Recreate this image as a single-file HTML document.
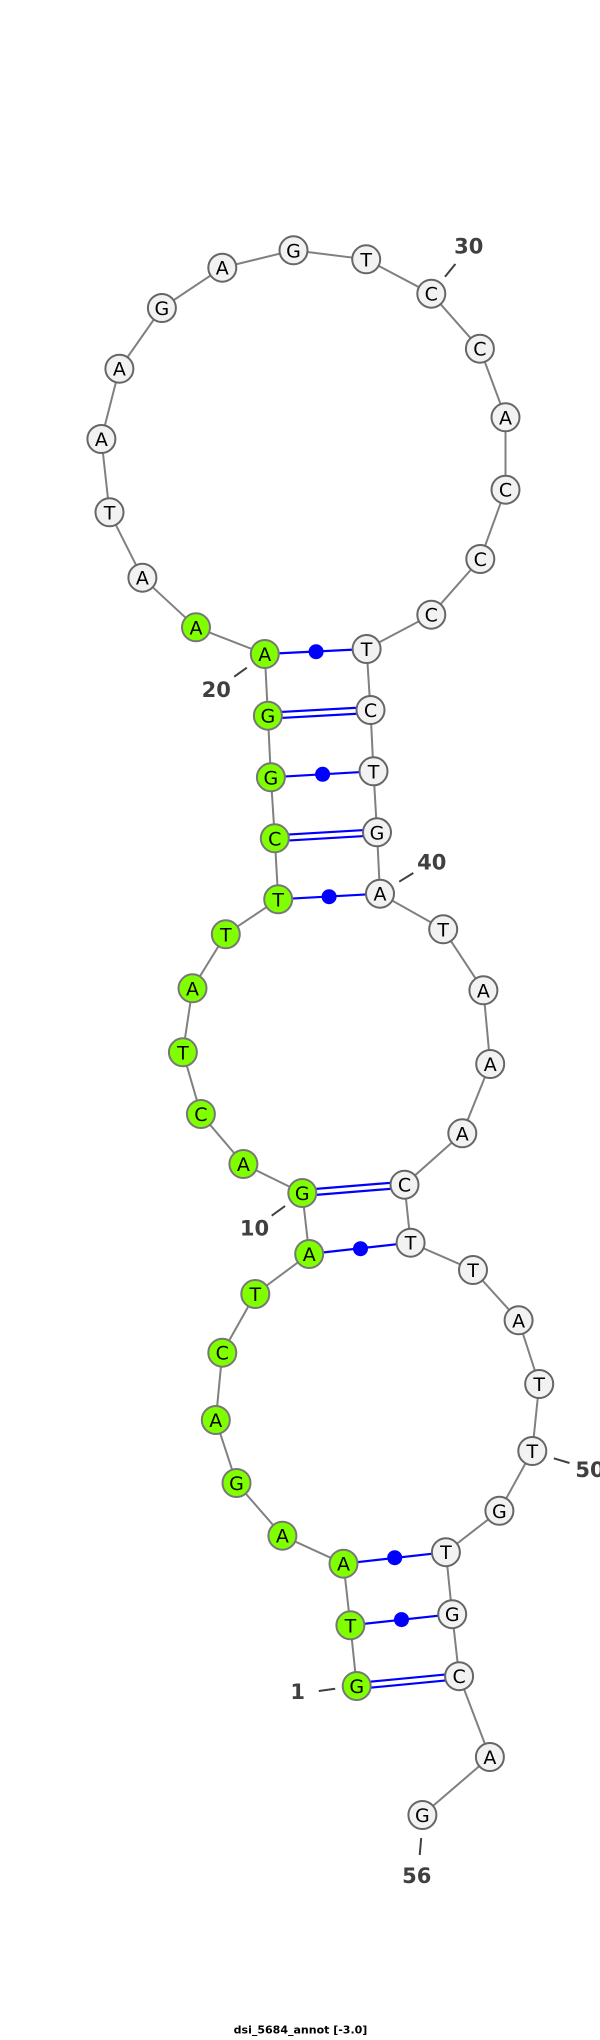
<!DOCTYPE html>
<html><head><meta charset="utf-8"><style>
html,body{margin:0;padding:0;background:#fff;}
svg{display:block;}
.n{stroke:#666;stroke-width:2;fill:#f2f2f2;}
.g{stroke:#777;stroke-width:2;fill:#80ff00;}
.t{font-family:"DejaVu Sans","Liberation Sans",sans-serif;font-size:19px;fill:#000;text-anchor:middle;dominant-baseline:central;}
.l{font-family:"DejaVu Sans","Liberation Sans",sans-serif;font-size:21px;font-weight:bold;fill:#404040;text-anchor:middle;dominant-baseline:central;}
.p{stroke:#0000ff;stroke-width:2.2;}
.k{stroke:#404040;stroke-width:2;}
</style></head><body>
<svg width="600" height="2040" viewBox="0 0 600 2040">
<polyline fill="none" stroke="#808080" stroke-width="2" points="356.7,1686 350.4,1625.3 343.5,1563.7 282.4,1535.7 236.5,1483 215.8,1420 222.3,1352.7 255.3,1294 309.2,1254 302.3,1193 243.4,1164 200.9,1114 182.9,1052.3 192.5,988.3 225.8,934.3 278.2,899.3 274.8,838.3 270.9,777.3 267.9,715.7 264.8,654 196,627.3 142.4,577.7 109.5,512.3 101.4,439 119.4,368.7 161.9,308 222.3,267.7 293.5,250.3 366.2,259.3 431.3,293.7 479.9,348.7 505.5,417.3 505.5,489.7 480.3,559 431.3,614.7 366.6,649 370.5,710 373.5,771.3 377,832.3 380,893.7 443.2,929.3 483.4,990.3 490.2,1064 462.3,1133.3 404.5,1184.7 410.6,1242.7 473,1270 518.6,1320.3 539.2,1384 532.3,1451 499.4,1510.8 445.9,1552.2 452.2,1614.2 459.1,1676.2 489.9,1757 422.4,1815"/>
<line class="p" x1="264.8" y1="654" x2="366.6" y2="649"/><circle cx="316.1" cy="651.7" r="7.5" fill="#0000ff"/>
<line class="p" x1="267.9" y1="712.7" x2="370.5" y2="707"/><line class="p" x1="267.9" y1="718.7" x2="370.5" y2="713"/>
<line class="p" x1="270.9" y1="777.3" x2="373.5" y2="771.3"/><circle cx="322.6" cy="774.3" r="7.5" fill="#0000ff"/>
<line class="p" x1="274.8" y1="835.3" x2="377" y2="829.3"/><line class="p" x1="274.8" y1="841.3" x2="377" y2="835.3"/>
<line class="p" x1="278.2" y1="899.3" x2="380" y2="893.7"/><circle cx="329.1" cy="896.7" r="7.5" fill="#0000ff"/>
<line class="p" x1="302.3" y1="1190" x2="404.5" y2="1181.7"/><line class="p" x1="302.3" y1="1196" x2="404.5" y2="1187.7"/>
<line class="p" x1="309.2" y1="1254" x2="410.6" y2="1242.7"/><circle cx="360.5" cy="1248.7" r="7.5" fill="#0000ff"/>
<line class="p" x1="343.5" y1="1563.7" x2="445.9" y2="1552.2"/><circle cx="394.7" cy="1557.7" r="7.5" fill="#0000ff"/>
<line class="p" x1="350.4" y1="1625.3" x2="452.2" y2="1614.2"/><circle cx="401.5" cy="1619.6" r="7.5" fill="#0000ff"/>
<line class="p" x1="356.7" y1="1683" x2="459.1" y2="1673.2"/><line class="p" x1="356.7" y1="1689" x2="459.1" y2="1679.2"/>
<line class="k" x1="445" y1="276.7" x2="455.4" y2="264"/>
<line class="k" x1="234.2" y1="676.7" x2="246.8" y2="667.7"/>
<line class="k" x1="399.2" y1="881.7" x2="413.3" y2="873"/>
<line class="k" x1="271.7" y1="1215.7" x2="285.1" y2="1206"/>
<line class="k" x1="553.8" y1="1458.3" x2="569.5" y2="1463"/>
<line class="k" x1="318.8" y1="1691" x2="335.2" y2="1688.7"/>
<line class="k" x1="421.2" y1="1838" x2="419.7" y2="1855"/>
<g>
<circle class="g" cx="356.7" cy="1686" r="14"/><text class="t" x="356.7" y="1687">G</text>
<circle class="g" cx="350.4" cy="1625.3" r="14"/><text class="t" x="350.4" y="1626.3">T</text>
<circle class="g" cx="343.5" cy="1563.7" r="14"/><text class="t" x="343.5" y="1564.7">A</text>
<circle class="g" cx="282.4" cy="1535.7" r="14"/><text class="t" x="282.4" y="1536.7">A</text>
<circle class="g" cx="236.5" cy="1483" r="14"/><text class="t" x="236.5" y="1484">G</text>
<circle class="g" cx="215.8" cy="1420" r="14"/><text class="t" x="215.8" y="1421">A</text>
<circle class="g" cx="222.3" cy="1352.7" r="14"/><text class="t" x="222.3" y="1353.7">C</text>
<circle class="g" cx="255.3" cy="1294" r="14"/><text class="t" x="255.3" y="1295">T</text>
<circle class="g" cx="309.2" cy="1254" r="14"/><text class="t" x="309.2" y="1255">A</text>
<circle class="g" cx="302.3" cy="1193" r="14"/><text class="t" x="302.3" y="1194">G</text>
<circle class="g" cx="243.4" cy="1164" r="14"/><text class="t" x="243.4" y="1165">A</text>
<circle class="g" cx="200.9" cy="1114" r="14"/><text class="t" x="200.9" y="1115">C</text>
<circle class="g" cx="182.9" cy="1052.3" r="14"/><text class="t" x="182.9" y="1053.3">T</text>
<circle class="g" cx="192.5" cy="988.3" r="14"/><text class="t" x="192.5" y="989.3">A</text>
<circle class="g" cx="225.8" cy="934.3" r="14"/><text class="t" x="225.8" y="935.3">T</text>
<circle class="g" cx="278.2" cy="899.3" r="14"/><text class="t" x="278.2" y="900.3">T</text>
<circle class="g" cx="274.8" cy="838.3" r="14"/><text class="t" x="274.8" y="839.3">C</text>
<circle class="g" cx="270.9" cy="777.3" r="14"/><text class="t" x="270.9" y="778.3">G</text>
<circle class="g" cx="267.9" cy="715.7" r="14"/><text class="t" x="267.9" y="716.7">G</text>
<circle class="g" cx="264.8" cy="654" r="14"/><text class="t" x="264.8" y="655">A</text>
<circle class="g" cx="196" cy="627.3" r="14"/><text class="t" x="196" y="628.3">A</text>
</g>
<g>
<circle class="n" cx="142.4" cy="577.7" r="14"/><text class="t" x="142.4" y="578.7">A</text>
<circle class="n" cx="109.5" cy="512.3" r="14"/><text class="t" x="109.5" y="513.3">T</text>
<circle class="n" cx="101.4" cy="439" r="14"/><text class="t" x="101.4" y="440">A</text>
<circle class="n" cx="119.4" cy="368.7" r="14"/><text class="t" x="119.4" y="369.7">A</text>
<circle class="n" cx="161.9" cy="308" r="14"/><text class="t" x="161.9" y="309">G</text>
<circle class="n" cx="222.3" cy="267.7" r="14"/><text class="t" x="222.3" y="268.7">A</text>
<circle class="n" cx="293.5" cy="250.3" r="14"/><text class="t" x="293.5" y="251.3">G</text>
<circle class="n" cx="366.2" cy="259.3" r="14"/><text class="t" x="366.2" y="260.3">T</text>
<circle class="n" cx="431.3" cy="293.7" r="14"/><text class="t" x="431.3" y="294.7">C</text>
<circle class="n" cx="479.9" cy="348.7" r="14"/><text class="t" x="479.9" y="349.7">C</text>
<circle class="n" cx="505.5" cy="417.3" r="14"/><text class="t" x="505.5" y="418.3">A</text>
<circle class="n" cx="505.5" cy="489.7" r="14"/><text class="t" x="505.5" y="490.7">C</text>
<circle class="n" cx="480.3" cy="559" r="14"/><text class="t" x="480.3" y="560">C</text>
<circle class="n" cx="431.3" cy="614.7" r="14"/><text class="t" x="431.3" y="615.7">C</text>
<circle class="n" cx="366.6" cy="649" r="14"/><text class="t" x="366.6" y="650">T</text>
<circle class="n" cx="370.5" cy="710" r="14"/><text class="t" x="370.5" y="711">C</text>
<circle class="n" cx="373.5" cy="771.3" r="14"/><text class="t" x="373.5" y="772.3">T</text>
<circle class="n" cx="377" cy="832.3" r="14"/><text class="t" x="377" y="833.3">G</text>
<circle class="n" cx="380" cy="893.7" r="14"/><text class="t" x="380" y="894.7">A</text>
<circle class="n" cx="443.2" cy="929.3" r="14"/><text class="t" x="443.2" y="930.3">T</text>
<circle class="n" cx="483.4" cy="990.3" r="14"/><text class="t" x="483.4" y="991.3">A</text>
<circle class="n" cx="490.2" cy="1064" r="14"/><text class="t" x="490.2" y="1065">A</text>
<circle class="n" cx="462.3" cy="1133.3" r="14"/><text class="t" x="462.3" y="1134.3">A</text>
<circle class="n" cx="404.5" cy="1184.7" r="14"/><text class="t" x="404.5" y="1185.7">C</text>
<circle class="n" cx="410.6" cy="1242.7" r="14"/><text class="t" x="410.6" y="1243.7">T</text>
<circle class="n" cx="473" cy="1270" r="14"/><text class="t" x="473" y="1271">T</text>
<circle class="n" cx="518.6" cy="1320.3" r="14"/><text class="t" x="518.6" y="1321.3">A</text>
<circle class="n" cx="539.2" cy="1384" r="14"/><text class="t" x="539.2" y="1385">T</text>
<circle class="n" cx="532.3" cy="1451" r="14"/><text class="t" x="532.3" y="1452">T</text>
<circle class="n" cx="499.4" cy="1510.8" r="14"/><text class="t" x="499.4" y="1511.8">G</text>
<circle class="n" cx="445.9" cy="1552.2" r="14"/><text class="t" x="445.9" y="1553.2">T</text>
<circle class="n" cx="452.2" cy="1614.2" r="14"/><text class="t" x="452.2" y="1615.2">G</text>
<circle class="n" cx="459.1" cy="1676.2" r="14"/><text class="t" x="459.1" y="1677.2">C</text>
<circle class="n" cx="489.9" cy="1757" r="14"/><text class="t" x="489.9" y="1758">A</text>
<circle class="n" cx="422.4" cy="1815" r="14"/><text class="t" x="422.4" y="1816">G</text>
</g>
<text class="l" x="468.8" y="246.7">30</text>
<text class="l" x="216.2" y="690">20</text>
<text class="l" x="431.7" y="862.3">40</text>
<text class="l" x="254.5" y="1228.3">10</text>
<text class="l" x="590" y="1470">50</text>
<text class="l" x="297.7" y="1692">1</text>
<text class="l" x="416.7" y="1876">56</text>
<text x="300.5" y="2030" style="font-family:'DejaVu Sans','Liberation Sans',sans-serif;font-size:11px;font-weight:bold;fill:#000;text-anchor:middle;dominant-baseline:central;">dsi_5684_annot [-3.0]</text>
</svg>
</body></html>
